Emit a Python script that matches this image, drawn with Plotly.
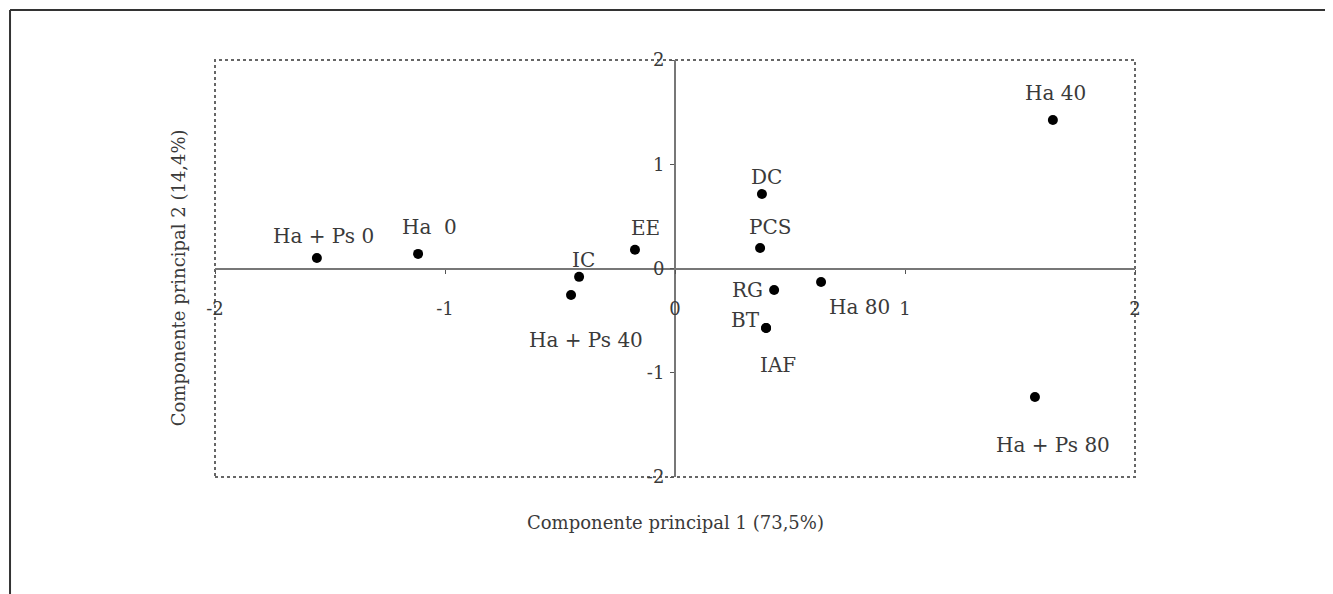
import plotly.graph_objects as go

# ---- data ----
labels = ["Ha + Ps 0", "Ha  0", "IC", "Ha + Ps 40", "EE", "DC", "PCS",
          "RG", "BT", "IAF", "Ha 80", "Ha 40", "Ha + Ps 80"]
pc1 = [-1.557, -1.117, -0.417, -0.452, -0.174, 0.378, 0.370,
       0.431, 0.396, 0.396, 0.635, 1.643, 1.565]
pc2 = [0.10, 0.14, -0.08, -0.255, 0.18, 0.715, 0.197,
       -0.206, -0.57, -0.57, -0.129, 1.424, -1.233]
# label offsets in pixels (dx right, dy up)
label_dx = [7, 11, 4, 15, 11, 5, 10, -27, -21, 12, 38, 3, 18]
label_dy = [22, 27, 17, -45, 22, 17, 21, 0, 8, -37, -25, 27, -48]
tick_vals = [-2, -1, 0, 1, 2]
tick_text = ["-2", "-1", "0", "1", "2"]
x_title = "Componente principal 1 (73,5%)"
y_title = "Componente principal 2 (14,4%)"

FONT = "DejaVu Serif"
TXT = "#3a3a3a"

fig = go.Figure()
fig.add_trace(go.Scatter(
    x=pc1, y=pc2, mode="markers",
    marker=dict(color="black", size=10, symbol="circle"),
    hoverinfo="text", text=labels, showlegend=False,
))

for lab, x, y, dx, dy in zip(labels, pc1, pc2, label_dx, label_dy):
    fig.add_annotation(x=x, y=y, text=lab, showarrow=False,
                       xshift=dx, yshift=dy, xanchor="center", yanchor="middle",
                       font=dict(family=FONT, size=20, color=TXT))

# axis titles
fig.add_annotation(xref="paper", yref="paper", x=0.501, y=-0.110, text=x_title,
                   showarrow=False, xanchor="center", yanchor="middle",
                   font=dict(family=FONT, size=18, color=TXT))
fig.add_annotation(xref="paper", yref="paper", x=-0.040, y=0.477, text=y_title,
                   showarrow=False, textangle=-90, xanchor="center", yanchor="middle",
                   font=dict(family=FONT, size=18, color=TXT))

# plot box (dotted)
fig.add_shape(type="rect", xref="paper", yref="paper", x0=0, y0=0, x1=1, y1=1,
              line=dict(color="#666", width=2, dash="dot"), layer="below")
# outer frame (top + left)
fig.add_shape(type="line", xref="paper", yref="paper", x0=-0.2228, y0=1.1199,
              x1=1.22, y1=1.1199, line=dict(color="#333", width=2))
fig.add_shape(type="line", xref="paper", yref="paper", x0=-0.2228, y0=1.1199,
              x1=-0.2228, y1=-0.29, line=dict(color="#333", width=2))

fig.update_xaxes(range=[-2, 2], showgrid=False, zeroline=False,
                 showline=True, linecolor="#777", linewidth=2,
                 anchor="free", position=0.5,
                 tickvals=tick_vals, ticktext=tick_text,
                 ticks="outside", ticklen=4, tickcolor="#555",
                 ticklabelstandoff=20,
                 tickfont=dict(family=FONT, size=18, color=TXT))
fig.update_yaxes(range=[-2, 2], showgrid=False, zeroline=False,
                 showline=True, linecolor="#777", linewidth=2,
                 anchor="free", position=0.5,
                 tickvals=tick_vals, ticktext=tick_text,
                 ticks="outside", ticklen=4, tickcolor="#555",
                 ticklabelstandoff=2,
                 tickfont=dict(family=FONT, size=18, color=TXT))

fig.update_layout(width=1325, height=586,
                  margin=dict(l=207, r=198, t=52, b=117),
                  paper_bgcolor="white", plot_bgcolor="white")

fig.write_html("out.html")
